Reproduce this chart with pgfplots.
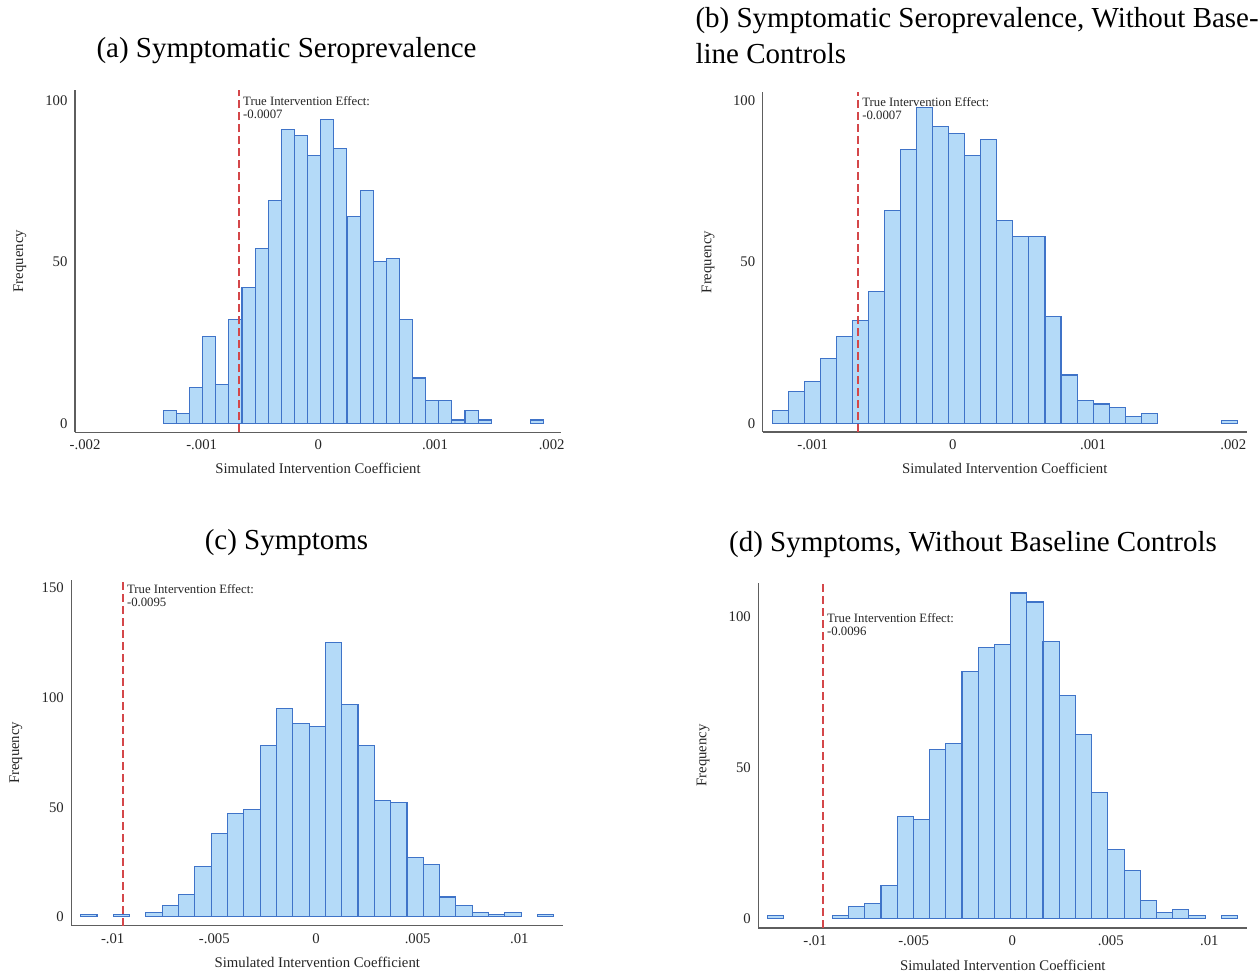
\documentclass[border=0pt]{standalone}
\usepackage{fontspec}
\setmainfont{Liberation Serif}
\usepackage{pgfplots}
\pgfplotsset{compat=1.18}

\definecolor{barfill}{HTML}{B4DAF8}
\definecolor{baredge}{HTML}{3F73C8}
\definecolor{refred}{HTML}{D4474A}
\definecolor{axisgray}{HTML}{5E5E5E}

\newcommand\tickfont{\fontsize{14.8}{17}\selectfont}
\newcommand\titlefont{\fontsize{29.1}{34}\selectfont}
\newcommand\notefont{\fontsize{12.8}{13}\selectfont}

\pgfplotsset{
  hist/.style={
    scale only axis,
    anchor=south west,
    axis x line*=bottom,
    axis y line*=left,
    axis line style={draw=axisgray, line width=1.3bp},
    major tick length=0pt,
    scaled x ticks=false,
    /pgf/number format/assume math mode=true,
    tick label style={font=\tickfont, text=black!85},
    xticklabel style={yshift=-4bp},
    yticklabel style={xshift=-4bp},
    label style={font=\tickfont, text=black!85},
    xlabel={Simulated Intervention Coefficient},
    ylabel={Frequency},
  },
  bars/.style={ybar, fill=barfill, draw=baredge, line width=1.1bp},
  refline/.style={draw=refred, line width=1.6bp, dash pattern=on 8bp off 4bp, mark=none},
}
\tikzset{
  note/.style={anchor=north west, align=left, font=\notefont, inner sep=1bp, yshift=5bp, xshift=3bp, text=black!85},
}

\begin{document}
\begin{tikzpicture}
\path[use as bounding box] (0,0) rectangle (1260bp,974bp);

% titles
\node[font=\titlefont] at (286.5bp,923bp) {(a) Symptomatic Seroprevalence};
\node[font=\titlefont, anchor=west] at (692bp,953bp) {(b) Symptomatic Seroprevalence, Without Base-};
\node[font=\titlefont, anchor=west] at (692bp,920bp) {line Controls};
\node[font=\titlefont] at (286.5bp,431bp) {(c) Symptoms};
\node[font=\titlefont] at (973bp,429bp) {(d) Symptoms, Without Baseline Controls};

% (a)
\begin{axis}[hist, at={(75bp,541.7bp)}, width=486bp, height=342.3bp,
  xmin=-0.002086, xmax=0.00208, ymin=-2.8, ymax=103.2,
  xtick={-0.002,-0.001,0,0.001,0.002}, xticklabels={-.002,-.001,0,.001,.002},
  ytick={0,50,100},
  xlabel style={at={(axis description cs:0.5,-0.104)}, anchor=center},
  ylabel style={at={(axis description cs:-0.1132,0.5)}, anchor=center}]
\addplot[bars, bar width=13.12bp] coordinates {
(-0.0012724,4) (-0.0011600,3) (-0.0010476,11) (-0.0009352,27) (-0.0008228,12)
(-0.0007103,32) (-0.0005979,42) (-0.0004855,54) (-0.0003731,69) (-0.0002607,91)
(-0.0001483,89) (-0.0000359,83) (0.0000765,94) (0.0001889,85) (0.0003014,64)
(0.0004138,72) (0.0005262,50) (0.0006386,51) (0.0007510,32) (0.0008634,14)
(0.0009758,7) (0.0010882,7) (0.0012006,1) (0.0013130,4) (0.0014255,1)
(0.0018751,1)
};
\addplot[refline] coordinates {(-0.00068,-2.8) (-0.00068,103.2)};
\node[note] at (axis cs:-0.00068,100) {True Intervention Effect:\\-0.0007};
\end{axis}

% (b)
\begin{axis}[hist, at={(762.7bp,542bp)}, width=484bp, height=340bp,
  xmin=-0.001357, xmax=0.002096, ymin=-2.7, ymax=102.8,
  xtick={-0.001,0,0.001,0.002}, xticklabels={-.001,0,.001,.002},
  ytick={0,50,100},
  xlabel style={at={(axis description cs:0.5,-0.106)}, anchor=center},
  ylabel style={at={(axis description cs:-0.113,0.5)}, anchor=center}]
\addplot[bars, bar width=16.04bp] coordinates {
(-0.0012308,4) (-0.0011164,10) (-0.0010020,13) (-0.0008876,20) (-0.0007732,27)
(-0.0006588,32) (-0.0005444,41) (-0.0004300,66) (-0.0003156,85) (-0.0002012,98)
(-0.0000868,92) (0.0000276,90) (0.0001420,83) (0.0002564,88) (0.0003708,63)
(0.0004852,58) (0.0005996,58) (0.0007140,33) (0.0008284,15) (0.0009428,7)
(0.0010572,6) (0.0011716,5) (0.0012860,2) (0.0014004,3)
(0.0019724,1)
};
\addplot[refline] coordinates {(-0.000676,-2.7) (-0.000676,102.8)};
\node[note] at (axis cs:-0.000676,100) {True Intervention Effect:\\-0.0007};
\end{axis}

% (c)
\begin{axis}[hist, at={(71.3bp,48.3bp)}, width=492bp, height=345.7bp,
  xmin=-0.012036, xmax=0.012164, ymin=-4.1, ymax=153.7,
  xtick={-0.01,-0.005,0,0.005,0.01}, xticklabels={-.01,-.005,0,.005,.01},
  ytick={0,50,100,150},
  xlabel style={at={(axis description cs:0.5,-0.105)}, anchor=center},
  ylabel style={at={(axis description cs:-0.1124,0.5)}, anchor=center}]
\addplot[bars, bar width=16.32bp] coordinates {
(-0.0111748,1) (-0.0095698,1) (-0.0079648,2) (-0.0071623,5) (-0.0063598,10)
(-0.0055573,23) (-0.0047548,38) (-0.0039523,47) (-0.0031498,49) (-0.0023473,78)
(-0.0015448,95) (-0.0007423,88) (0.0000602,87) (0.0008627,125) (0.0016652,97)
(0.0024677,78) (0.0032702,53) (0.0040727,52) (0.0048752,27) (0.0056777,24)
(0.0064802,9) (0.0072827,5) (0.0080852,2) (0.0088877,1) (0.0096902,2)
(0.0112952,1)
};
\addplot[refline] coordinates {(-0.0095,-4.1) (-0.0095,153.7)};
\node[note] at (axis cs:-0.0095,150) {True Intervention Effect:\\-0.0095};
\end{axis}

% (d)
\begin{axis}[hist, at={(758.3bp,46bp)}, width=489bp, height=345bp,
  xmin=-0.012879, xmax=0.011925, ymin=-3.0, ymax=111.3,
  xtick={-0.01,-0.005,0,0.005,0.01}, xticklabels={-.01,-.005,0,.005,.01},
  ytick={0,50,100},
  xlabel style={at={(axis description cs:0.5,-0.107)}, anchor=center},
  ylabel style={at={(axis description cs:-0.113,0.5)}, anchor=center}]
\addplot[bars, bar width=16.21bp] coordinates {
(-0.011999,1) (-0.008711,1) (-0.007889,4) (-0.007067,5) (-0.006245,11)
(-0.005423,34) (-0.004601,33) (-0.003779,56) (-0.002957,58) (-0.002135,82)
(-0.001313,90) (-0.000491,91) (0.000331,108) (0.001153,105) (0.001975,92)
(0.002797,74) (0.003619,61) (0.004441,42) (0.005263,23) (0.006085,16)
(0.006907,6) (0.007729,2) (0.008551,3) (0.009373,1)
(0.011017,1)
};
\addplot[refline] coordinates {(-0.0096,-3.0) (-0.0096,111.3)};
\node[note] at (axis cs:-0.0096,100) {True Intervention Effect:\\-0.0096};
\end{axis}
\end{tikzpicture}
\end{document}
